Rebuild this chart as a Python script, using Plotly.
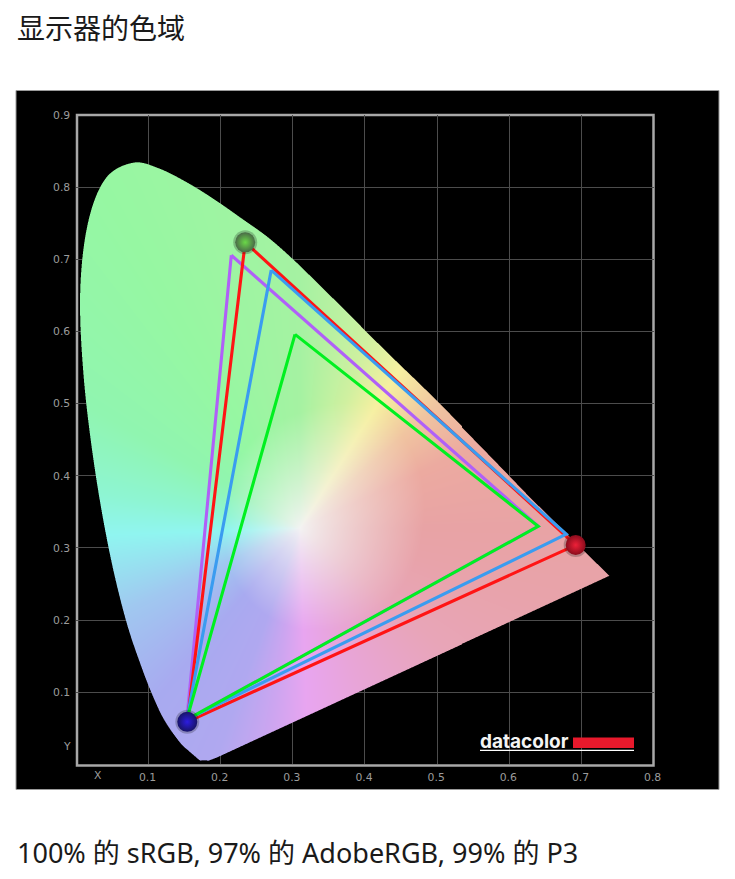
import numpy as np
import plotly.graph_objects as go

W, H = 735, 879
# plot rectangle in page pixels
L, R, T, B = 76.0, 654.0, 115.0, 764.4

TITLE = "显示器的色域"
CAPTION = "100% 的 sRGB, 97% 的 AdobeRGB, 99% 的 P3"
X_TICKS = [0.1, 0.2, 0.3, 0.4, 0.5, 0.6, 0.7, 0.8]
Y_TICKS = [0.1, 0.2, 0.3, 0.4, 0.5, 0.6, 0.7, 0.8, 0.9]

# outline of the chromaticity horseshoe: curved part, then the straight closing edge
CURVE_X = [.1741, .1714, .1644, .1566, .1440, .1241, .1096, .0913, .0687, .0461,
           .0255, .0105, .0058, .0165, .0410, .0790, .1142, .1547, .1929, .2296, .2658,
           .3016, .3373, .3731, .4087, .4441, .4788, .5125, .5448, .5752, .6029, .6270, .6482,
           .6658, .6915, .7396]
CURVE_Y = [.0050, .0051, .0109, .0177, .0297, .0578, .0868, .1327, .2007, .2950,
           .4127, .5384, .6548, .7502, .8120, .8338, .8262, .8059, .7820, .7563, .7303,
           .6988, .6639, .6285, .5926, .5577, .5242, .4906, .4574, .4262, .3975, .3725, .3514,
           .3340, .3083, .2610]
BASE_X = [.1950, .1840]
BASE_Y = [.0090, .0048]

# colour of the fill by direction from the white centre, and how far out it is fully reached
WHITE_XY = (0.310, 0.327)
HUE_DEG = [0, 25, 42, 58, 70, 90, 120, 150, 170, 182, 205, 230, 250, 262, 272, 290, 320, 345]
HUE_R = [232, 236, 240, 246, 208, 165, 150, 144, 142, 144, 160, 168, 176, 205, 232, 232, 232, 232]
HUE_G = [163, 170, 196, 240, 240, 242, 247, 245, 245, 245, 200, 170, 168, 165, 165, 165, 165, 163]
HUE_B = [165, 160, 160, 160, 160, 162, 162, 176, 210, 240, 240, 240, 240, 240, 240, 216, 184, 170]
REACH_DEG = [0, 58, 90, 130, 180, 230, 270, 320]
REACH = [.17, .20, .16, .13, .10, .12, .14, .16]

# gamut triangles (closed): G, R, B, G
ADOBE_X = [.2147, .640, .153, .2147]
ADOBE_Y = [.7056, .330, .062, .7056]
MEASURED_X = [.234, .692, .1537, .234]
MEASURED_Y = [.7235, .304, .059, .7235]
P3_X = [.270, .679, .153, .270]
P3_Y = [.685, .319, .062, .685]
SRGB_X = [.303, .640, .153, .303]
SRGB_Y = [.596, .330, .062, .596]


def px(x):
    return x / W


def py(y):
    return 1 - y / H


def smooth_outline(xs, ys, n=12):
    """Catmull-Rom rounding of the outline so it does not show facets."""
    p = np.column_stack([xs, ys])
    p = np.vstack([p[0], p, p[-1]])
    out = []
    for i in range(1, len(p) - 2):
        for u in np.linspace(0, 1, n, endpoint=False):
            out.append(0.5 * (2 * p[i] + (p[i + 1] - p[i - 1]) * u
                              + (2 * p[i - 1] - 5 * p[i] + 4 * p[i + 1] - p[i + 2]) * u ** 2
                              + (3 * p[i] - p[i - 1] - 3 * p[i + 1] + p[i + 2]) * u ** 3))
    out.append(p[-2])
    return np.array(out)


outline = np.vstack([smooth_outline(CURVE_X, CURVE_Y), np.column_stack([BASE_X, BASE_Y])])
vx, vy = outline[:, 0], outline[:, 1]

nx, ny = int(R - L), int(round((B - T)))
dx, dy = 0.8 / nx, 0.9 / ny
SS = 3
sx = (np.arange(nx * SS) + 0.5) / SS * dx
sy = (np.arange(ny * SS) + 0.5) / SS * dy
GX, GY = np.meshgrid(sx, sy)
inside = np.zeros(GX.shape, dtype=bool)
for i in range(len(vx)):
    j = (i + 1) % len(vx)
    if vy[i] == vy[j]:
        continue
    lo, hi = sorted((vy[i], vy[j]))
    r0, r1 = np.searchsorted(sy, lo), np.searchsorted(sy, hi)
    sub_y, sub_x = GY[r0:r1], GX[r0:r1]
    inside[r0:r1] ^= sub_x < (vx[j] - vx[i]) * (sub_y - vy[i]) / (vy[j] - vy[i]) + vx[i]
alpha = inside.reshape(ny, SS, nx, SS).mean(axis=(1, 3))

cx = (np.arange(nx) + 0.5) * dx
cy = (np.arange(ny) + 0.5) * dy
CX, CY = np.meshgrid(cx, cy)
ang = np.degrees(np.arctan2(CY - WHITE_XY[1], CX - WHITE_XY[0])) % 360
rad = np.hypot(CX - WHITE_XY[0], CY - WHITE_XY[1])
t = np.clip(rad / np.interp(ang, REACH_DEG, REACH, period=360), 0, 1) ** 0.85
rgb = []
for chan in (HUE_R, HUE_G, HUE_B):
    sat = np.interp(ang, HUE_DEG, chan, period=360)
    rgb.append(243 + (sat - 243) * t)
img = np.dstack(rgb + [alpha * 255]).round().astype(int)

fig = go.Figure()
fig.add_trace(go.Image(z=img.tolist(), colormodel="rgba", zmin=[0, 0, 0, 0], zmax=[255, 255, 255, 255],
                       x0=dx / 2, dx=dx, y0=dy / 2, dy=dy, hoverinfo="skip"))

for xs, ys, col in [(ADOBE_X, ADOBE_Y, "#b060f8"), (MEASURED_X, MEASURED_Y, "#ff1414"),
                    (P3_X, P3_Y, "#3a9cf0"), (SRGB_X, SRGB_Y, "#00f020")]:
    fig.add_trace(go.Scatter(x=xs, y=ys, mode="lines", line=dict(color=col, width=3.1),
                             hoverinfo="skip", showlegend=False))

sphere_x, sphere_y = MEASURED_X[:3], MEASURED_Y[:3]
fig.add_trace(go.Scatter(x=sphere_x, y=sphere_y, mode="markers", hoverinfo="skip", showlegend=False,
                         marker=dict(size=24, color="rgba(0,0,0,0.22)", line=dict(width=0))))
fig.add_trace(go.Scatter(x=sphere_x, y=sphere_y, mode="markers", hoverinfo="skip", showlegend=False,
                         marker=dict(size=20, color=["#4a6a48", "#8a0c1c", "#181468"],
                                     gradient=dict(type="radial", color=["#6ad848", "#ee2038", "#2c1ce0"]),
                                     line=dict(width=0))))

tick_font = dict(family="DejaVu Sans", size=10.8, color="#9c9c9c")
fig.update_layout(
    width=W, height=H, margin=dict(l=0, r=0, t=0, b=0),
    paper_bgcolor="white", plot_bgcolor="rgba(0,0,0,0)", showlegend=False,
    xaxis=dict(domain=[px(L), px(R)], range=[0, 0.8], tickvals=X_TICKS, ticktext=[f"{v:.1f}" for v in X_TICKS],
               showgrid=True, gridcolor="#4c4c4c", gridwidth=1, zeroline=False, showline=False, automargin=False,
               ticks="outside", ticklen=3, tickcolor="rgba(0,0,0,0)", tickfont=tick_font, ticklabelshift=-1),
    yaxis=dict(domain=[py(B), py(T)], range=[0, 0.9], tickvals=Y_TICKS, ticktext=[f"{v:.1f}" for v in Y_TICKS],
               showgrid=True, gridcolor="#4c4c4c", gridwidth=1, zeroline=False, showline=False, automargin=False,
               ticks="outside", ticklen=3, tickcolor="rgba(0,0,0,0)", tickfont=tick_font, autorange=False),
    shapes=[
        dict(type="rect", xref="paper", yref="paper", x0=px(16), x1=px(719), y0=py(789.5), y1=py(90.5),
             fillcolor="#000000", line=dict(color="#9a9a9a", width=1), layer="below"),
        dict(type="rect", xref="paper", yref="paper", x0=px(77), x1=px(653.5), y0=py(765.5), y1=py(115),
             fillcolor="rgba(0,0,0,0)", line=dict(color="#a8a8a8", width=2.5), layer="below"),
        dict(type="rect", xref="paper", yref="paper", x0=px(573), x1=px(634), y0=py(748), y1=py(737.5),
             fillcolor="#e8192c", line=dict(width=0), layer="above"),
        dict(type="rect", xref="paper", yref="paper", x0=px(480), x1=px(634), y0=py(751), y1=py(749.7),
             fillcolor="#ffffff", line=dict(width=0), layer="above"),
    ],
    annotations=[
        dict(text=TITLE, xref="paper", yref="paper", x=px(15), y=py(27.5), xanchor="left", yanchor="middle",
             showarrow=False, font=dict(family="Noto Sans CJK SC", size=28, color="#1a1a1a")),
        dict(text=CAPTION, xref="paper", yref="paper", x=px(15), y=py(852.5), xanchor="left", yanchor="middle",
             showarrow=False, font=dict(family="Noto Sans, Noto Sans CJK SC", size=27, color="#1a1a1a")),
        dict(text="X", xref="paper", yref="paper", x=px(98), y=py(775), xanchor="center", yanchor="middle",
             showarrow=False, font=tick_font),
        dict(text="Y", xref="paper", yref="paper", x=px(67), y=py(746), xanchor="center", yanchor="middle",
             showarrow=False, font=tick_font),
        dict(text="<b>datacolor</b>", xref="paper", yref="paper", x=px(478), y=py(741), xanchor="left",
             yanchor="middle", showarrow=False, font=dict(family="Inter", size=19, color="#f4f4f4")),
    ],
)
fig.write_html("out.html", default_width="735px", default_height="879px", config={"displayModeBar": False},
               post_script="document.documentElement.style.margin='0';document.body.style.margin='0';"
                           "document.body.style.overflow='hidden';")
